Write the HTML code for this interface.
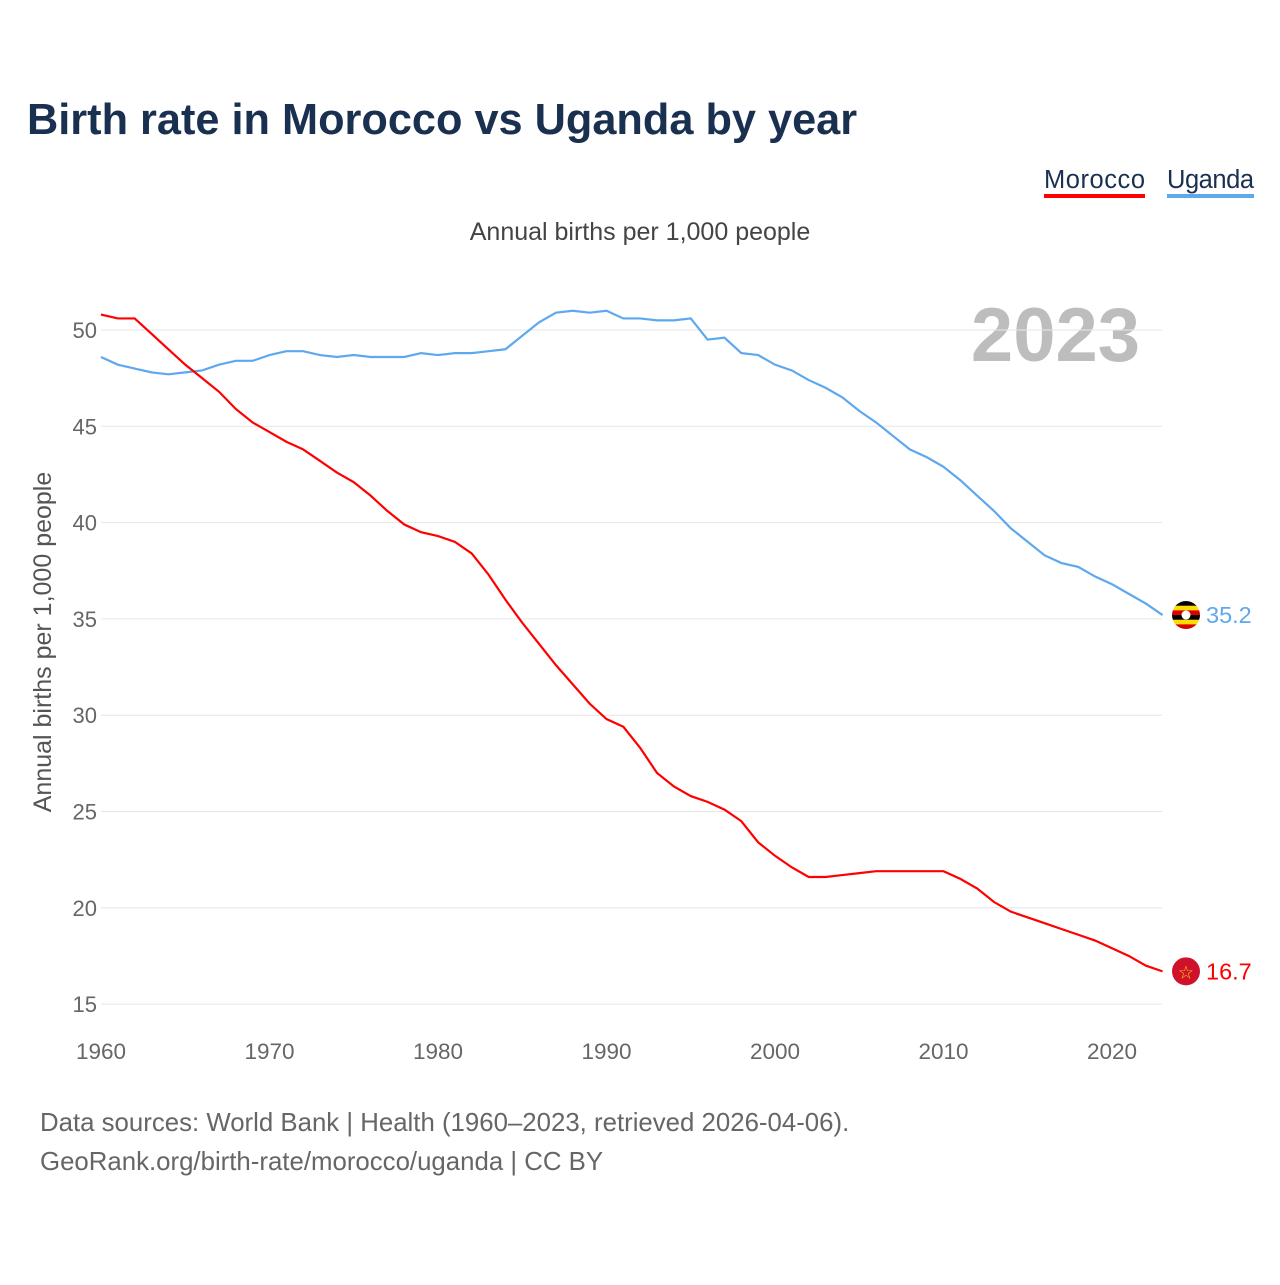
<!DOCTYPE html>
<html><head><meta charset="utf-8"><style>
body{margin:0;background:#fff;font-family:"Liberation Sans",sans-serif;}
svg text{font-family:"Liberation Sans",sans-serif;}
</style></head><body>
<svg width="1280" height="1280" viewBox="0 0 1280 1280" xmlns="http://www.w3.org/2000/svg">
<text x="27" y="134" font-size="43.3" font-weight="bold" fill="#1a3050">Birth rate in Morocco vs Uganda by year</text>
<g><text x="1044" y="188" font-size="25.5" fill="#1a3050" textLength="101">Morocco</text><rect x="1044" y="194" width="101" height="4" fill="#f00"/></g>
<g><text x="1167" y="188" font-size="25.5" fill="#1a3050" textLength="87">Uganda</text><rect x="1167" y="194" width="87" height="4" fill="#5ea8ee"/></g>
<text x="640" y="240" font-size="25" fill="#444" text-anchor="middle">Annual births per 1,000 people</text>
<text x="1140" y="361" font-size="76" font-weight="bold" fill="#bdbdbd" text-anchor="end">2023</text>
<text transform="translate(51,642) rotate(-90)" font-size="25" fill="#555" text-anchor="middle">Annual births per 1,000 people</text>
<g id="grid"></g><g id="ticks"></g><g id="lines"></g>
<text x="40" y="1131" font-size="25.8" fill="#666">Data sources: World Bank | Health (1960–2023, retrieved 2026-04-06).</text>
<text x="40" y="1170" font-size="25.8" fill="#666">GeoRank.org/birth-rate/morocco/uganda | CC BY</text>
</svg>
<script>
const years=[];for(let y=1960;y<=2023;y++)years.push(y);
const morocco=[50.8,50.6,50.6,49.8,49.0,48.2,47.5,46.8,45.9,45.2,44.7,44.2,43.8,43.2,42.6,42.1,41.4,40.6,39.9,39.5,39.3,39.0,38.4,37.3,36.0,34.8,33.7,32.6,31.6,30.6,29.8,29.4,28.3,27.0,26.3,25.8,25.5,25.1,24.5,23.4,22.7,22.1,21.6,21.6,21.7,21.8,21.9,21.9,21.9,21.9,21.9,21.5,21.0,20.3,19.8,19.5,19.2,18.9,18.6,18.3,17.9,17.5,17.0,16.7];
const uganda=[48.6,48.2,48.0,47.8,47.7,47.8,47.9,48.2,48.4,48.4,48.7,48.9,48.9,48.7,48.6,48.7,48.6,48.6,48.6,48.8,48.7,48.8,48.8,48.9,49.0,49.7,50.4,50.9,51.0,50.9,51.0,50.6,50.6,50.5,50.5,50.6,49.5,49.6,48.8,48.7,48.2,47.9,47.4,47.0,46.5,45.8,45.2,44.5,43.8,43.4,42.9,42.2,41.4,40.6,39.7,39.0,38.3,37.9,37.7,37.2,36.8,36.3,35.8,35.2];
const yTicks=[15,20,25,30,35,40,45,50];
const xTicks=[1960,1970,1980,1990,2000,2010,2020];
const NS="http://www.w3.org/2000/svg";
const X=v=>101+(v-1960)*16.85, Y=v=>330+(50-v)*19.26;
function mk(t,a,p){const e=document.createElementNS(NS,t);for(const k in a)e.setAttribute(k,a[k]);p.appendChild(e);return e;}
const g=document.getElementById('grid'),tk=document.getElementById('ticks'),ln=document.getElementById('lines');
yTicks.forEach(v=>{const l=mk('line',{x1:101,x2:1162,y1:Y(v),y2:Y(v),stroke:'#e6e6e6','stroke-width':1},g);


const t=mk('text',{x:97,y:Y(v)+8,'font-size':22,fill:'#666','text-anchor':'end'},tk);t.textContent=v;

});
xTicks.forEach(v=>{const t=mk('text',{x:X(v),y:1059,'font-size':22.5,fill:'#666','text-anchor':'middle'},tk);t.textContent=v;

});
function series(d,c,name,flag){const p=mk('path',{d:d.map((v,i)=>(i?'L':'M')+X(years[i])+','+Y(v)).join(''),fill:'none',stroke:c,'stroke-width':2.2},ln);


const last=d[d.length-1],cy=Y(last);
const lb=mk('text',{x:1206,y:cy+8,'font-size':23.5,fill:c},ln);lb.textContent=last.toFixed(1);


const f=mk('g',{},ln);


if(flag==='ug'){const cols=['#000','#fcdc04','#d90000','#000','#fcdc04','#d90000'];
const cp=mk('clipPath',{id:'cug'},f);mk('circle',{cx:1186,cy:cy,r:14},cp);
cols.forEach((cc,i)=>mk('rect',{x:1172,y:cy-14+i*28/6,width:28,height:28/6+0.5,fill:cc,'clip-path':'url(#cug)'},f));
mk('circle',{cx:1186,cy:cy,r:4.5,fill:'#fff'},f);}
else{mk('circle',{cx:1186,cy:cy,r:14,fill:'#d0112b'},f);const s=mk('text',{x:1186,y:cy+7,'font-size':18,fill:'#f5d000','text-anchor':'middle'},f);s.textContent='☆';}}
series(uganda,'#5ea8ee','uganda','ug');
series(morocco,'#ff0000','morocco','ma');
</script>
</body></html>
